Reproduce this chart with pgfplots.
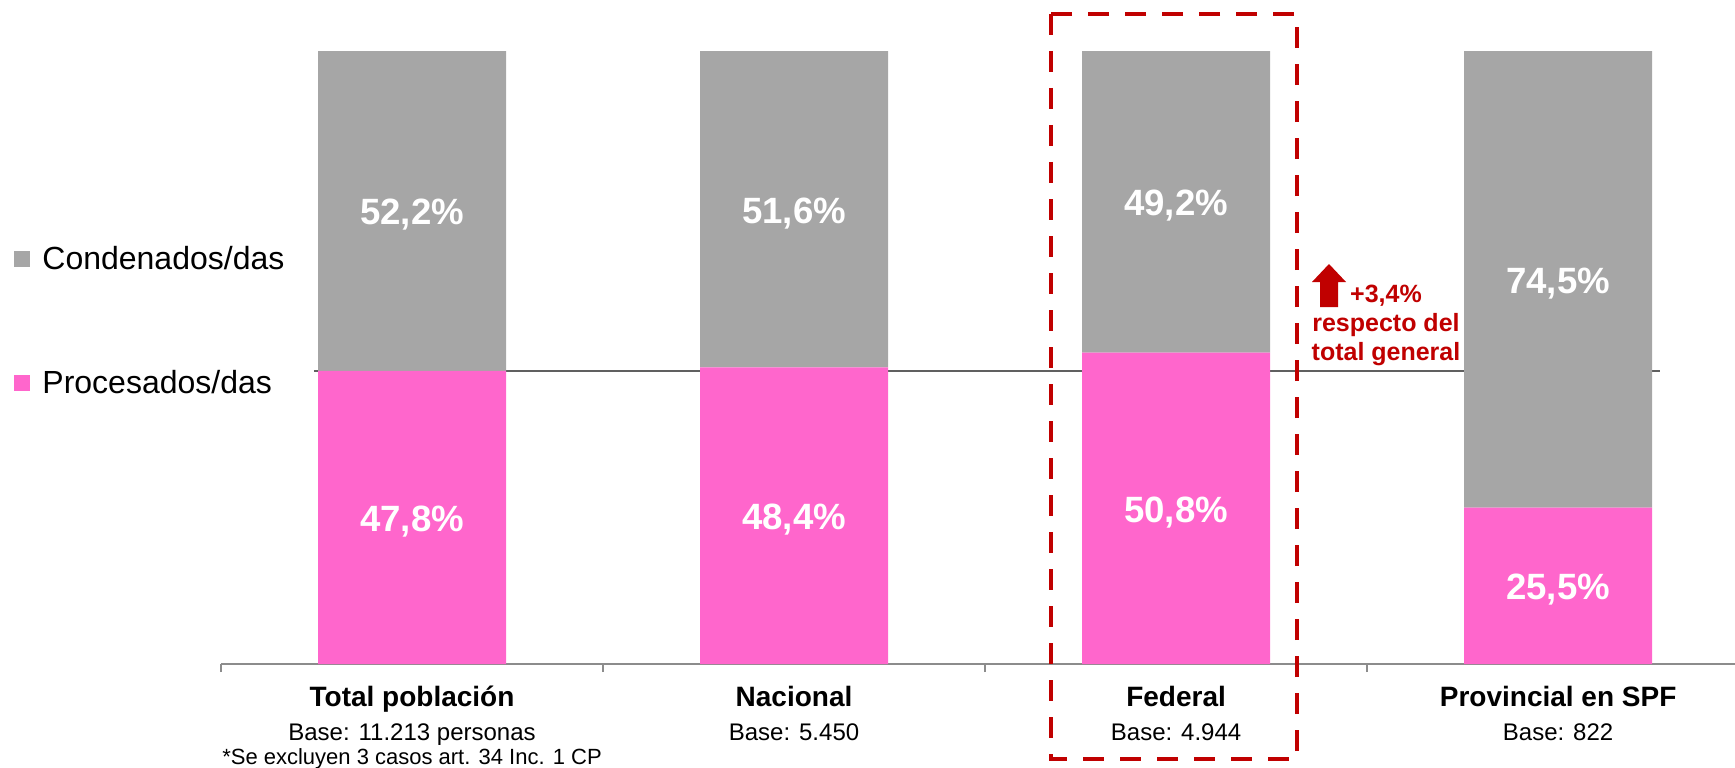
\documentclass[border=0pt]{standalone}
\usepackage{pgfplots}
\pgfplotsset{compat=1.18}
\usepackage{fontspec}
\setmainfont{Liberation Sans}
\definecolor{pinkbar}{HTML}{FF66CC}
\definecolor{graybar}{HTML}{A6A6A6}
\definecolor{redmark}{HTML}{C00000}
\definecolor{refline}{HTML}{606060}
\definecolor{axisgray}{HTML}{8C8C8C}

\begin{document}
\begin{tikzpicture}
\begin{axis}[
    scale only axis,
    width=757pt, height=306.5pt,
    ybar stacked, bar width=94pt,
    xmin=-0.5, xmax=3.463, ymin=0, ymax=100,
    enlargelimits=false,
    clip=false,
    axis x line*=bottom,
    hide y axis,
    x axis line style={axisgray, line width=0.75pt, -},
    xtick={0,1,2,3},
    major tick length=0pt,
    xticklabels={
      {\fontsize{14}{16}\selectfont\bfseries Total población\\[5pt]\fontsize{12}{16}\selectfont\mdseries Base: 11.213 personas\\\fontsize{11}{13}\selectfont *Se excluyen 3 casos art. 34 Inc. 1 CP},
      {\fontsize{14}{16}\selectfont\bfseries Nacional\\[5pt]\fontsize{12}{16}\selectfont\mdseries Base: 5.450},
      {\fontsize{14}{16}\selectfont\bfseries Federal\\[5pt]\fontsize{12}{16}\selectfont\mdseries Base: 4.944},
      {\fontsize{14}{16}\selectfont\bfseries Provincial en SPF\\[5pt]\fontsize{12}{16}\selectfont\mdseries Base: 822}
    },
    xticklabel style={align=center, anchor=north, inner sep=0pt, yshift=-11pt},
    extra x ticks={-0.5,0.5,1.5,2.5},
    extra x tick labels={},
    extra x tick style={major tick length=4pt, tick align=outside,
      tick style={axisgray, line width=0.75pt}},
    nodes near coords={\pgfmathprintnumber[use comma,fixed,fixed zerofill,precision=1,assume math mode=true]{\pgfplotspointmeta}\%},
    every node near coord/.append style={anchor=center, yshift=-2pt, text=white,
      font=\fontsize{18.3}{22}\selectfont\bfseries},
    reverse legend,
    legend cell align=left,
    legend image code/.code={\fill[#1] (0pt,-4pt) rectangle (8pt,4pt);},
    legend style={at={(axis description cs:-0.1367,0.5595)}, anchor=west,
      draw=none, fill=none, inner sep=0pt, row sep=45pt, column sep=4pt,
      font=\fontsize{16}{19}\selectfont},
  ]
  % Procesados/das (bottom) and Condenados/das (top), in %
  \addplot[fill=pinkbar, draw=none] coordinates {(0,47.8) (1,48.4) (2,50.8) (3,25.5)};
  \addplot[fill=graybar, draw=none] coordinates {(0,52.2) (1,51.6) (2,49.2) (3,74.5)};
  \legend{Procesados/das, Condenados/das}

  % reference line: total general
  \addplot[stack plots=false, forget plot, sharp plot, refline, line width=1pt,
    mark=none, nodes near coords=]
    coordinates {(-0.257,47.8) (3.267,47.8)};
\end{axis}

% highlight box around Federal
\draw[redmark, line width=2.25pt, dash pattern=on 10.5pt off 8pt]
  (415pt,325pt) rectangle (538pt,-47.5pt);
% up arrow and note
\fill[redmark] (549.5pt,178.5pt) -- (549.5pt,191pt) -- (545.5pt,191pt) -- (554pt,200pt)
  -- (562.5pt,191pt) -- (558.5pt,191pt) -- (558.5pt,178.5pt) -- cycle;
\node[anchor=base, align=center, text=redmark, inner sep=0pt,
  font=\fontsize{12.5}{14.5}\selectfont\bfseries] at (582.5pt,152pt)
  {+3,4\%\\respecto del\\total general};
\pgfresetboundingbox
\useasboundingbox (-110.5pt,-51.5pt) rectangle (757pt,332pt);
\end{tikzpicture}
\end{document}
